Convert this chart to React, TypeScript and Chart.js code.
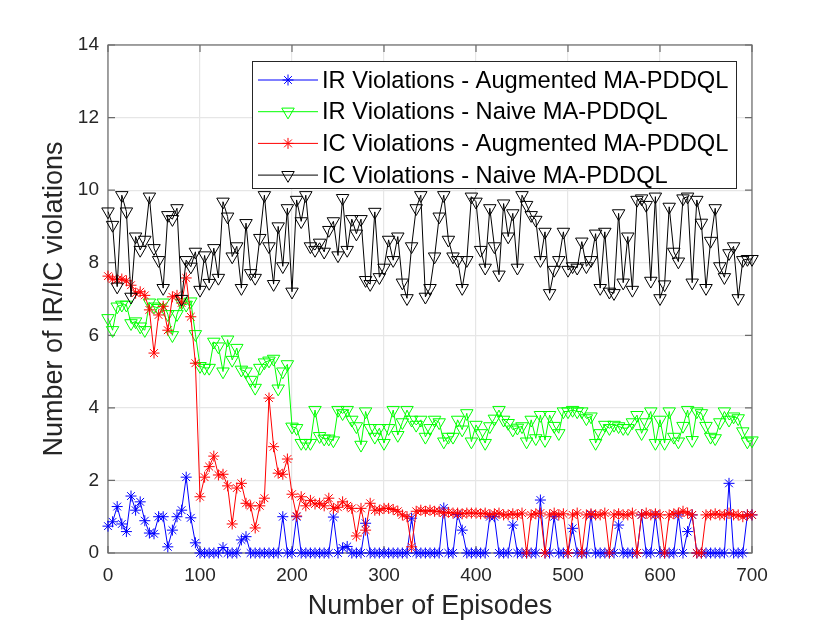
import React, { useEffect, useRef } from 'react'
import { Chart, registerables } from 'chart.js'

Chart.register(...registerables)

// episodes sampled every 5 steps
const episodes = Array.from({ length: 141 }, (_, i) => i * 5)

const irAugmented = [
  0.74, 0.86, 1.28, 0.8, 0.59, 1.57, 1.18, 1.41, 0.89, 0.55,
  0.53, 1.0, 1.0, 0.17, 0.63, 1.0, 1.18, 2.09, 0.97, 0.28,
  0, 0, 0, 0, 0, 0.15, 0, 0, 0, 0.36,
  0.45, 0, 0, 0, 0, 0, 0, 0, 1.0, 0,
  0, 1.0, 0, 0, 0, 0, 0, 0, 0, 0.99,
  0, 0.14, 0.18, 0, 0, 0, 0.82, 0, 0, 0,
  0, 0, 0, 0, 0, 0, 0.96, 0, 0, 0,
  0, 0, 0, 1.24, 0, 0, 1.06, 0.63, 0, 0,
  0, 0, 0, 1.0, 1.0, 0, 0, 0, 0.77, 0,
  0, 0, 0, 0, 1.46, 0, 0, 1.0, 0, 0,
  0, 0.68, 0, 0, 0, 1.05, 0, 0, 0, 0,
  0, 0.77, 0, 0, 0, 0, 1.05, 0, 0, 1.05,
  0, 0, 0, 0, 1.05, 0, 0.59, 1.05, 0, 0,
  0, 0, 0, 0, 0, 1.92, 0, 0, 0, 1.05,
  1.05
]

const irNaive = [
  6.47, 6.14, 6.79, 6.84, 6.84, 6.33, 6.38, 6.24, 6.14, 6.9,
  6.79, 6.75, 6.9, 6.58, 6.0, 6.58, 6.9, 6.84, 6.93, 6.03,
  5.15, 5.1, 5.1, 5.82, 5.69, 5.0, 5.88, 5.32, 5.65, 5.05,
  5.0, 4.77, 4.55, 5.1, 5.25, 5.3, 5.35, 4.53, 5.0, 5.2,
  3.48, 3.44, 3.03, 3.03, 3.03, 3.94, 3.22, 3.15, 3.15, 3.1,
  3.94, 3.85, 3.94, 3.67, 3.49, 2.98, 3.9, 3.44, 3.2, 3.44,
  3.03, 3.44, 3.94, 3.25, 3.6, 3.94, 3.67, 3.53, 3.67, 3.2,
  3.44, 3.67, 3.6, 3.07, 3.2, 3.2, 3.67, 3.4, 3.85, 3.07,
  3.53, 3.3, 3.03, 3.49, 3.7, 3.94, 3.67, 3.58, 3.4, 3.45,
  3.49, 3.07, 3.67, 3.16, 3.8, 3.11, 3.8, 3.5, 3.3, 3.9,
  3.9, 3.94, 3.9, 3.9, 3.71, 3.76, 3.03, 3.3, 3.53, 3.44,
  3.53, 3.49, 3.44, 3.44, 3.6, 3.8, 3.3, 3.6, 3.9, 3.03,
  3.67, 3.03, 3.9, 3.2, 3.07, 3.5, 3.94, 3.11, 3.9, 3.85,
  3.5, 3.2, 3.16, 3.6, 3.9, 3.67, 3.76, 3.71, 3.35, 3.07,
  3.1
]

const icAugmented = [
  7.63, 7.55, 7.53, 7.55, 7.5, 7.38, 7.16, 7.2, 7.1, 6.7,
  5.51, 6.56, 6.8, 6.14, 7.06, 7.1, 6.89, 7.58, 6.51, 5.23,
  1.55, 2.09, 2.38, 2.67, 2.15, 2.17, 1.85, 0.8, 1.79, 1.92,
  1.37, 1.3, 0.69, 1.3, 1.51, 4.27, 2.93, 2.2, 2.17, 2.59,
  1.62, 1.02, 1.55, 1.3, 1.45, 1.35, 1.37, 1.3, 1.51, 1.23,
  1.26, 1.41, 1.3, 1.23, 0.47, 1.23, 0.63, 1.37, 1.18, 1.18,
  1.23, 1.23, 1.2, 1.15, 1.05, 1.0, 0.17, 1.15, 1.18, 1.15,
  1.18, 1.15, 1.15, 1.1, 1.12, 1.1, 1.1, 1.08, 1.1, 1.1,
  1.1, 1.08, 1.1, 1.05, 1.08, 1.1, 1.05, 1.05, 1.08, 1.05,
  1.1, 0, 1.05, 1.08, 1.1, 0, 1.05, 1.1, 1.05, 1.08,
  0, 1.05, 1.1, 0, 1.05, 1.08, 1.05, 1.05, 1.1, 0,
  1.05, 1.08, 1.05, 1.05, 1.1, 0, 1.05, 1.1, 1.05, 1.08,
  1.05, 0, 1.05, 1.08, 1.1, 1.15, 1.1, 1.05, 0, 0,
  1.05, 1.05, 1.08, 1.05, 1.05, 1.1, 1.05, 1.05, 1.0, 1.05,
  1.05
]

const icNaive = [
  9.41, 9.04, 7.34, 9.86, 9.41, 7.06, 8.72, 8.35, 8.63, 9.82,
  8.4, 8.07, 7.3, 9.31, 9.2, 9.5, 7.0, 8.07, 7.89, 8.3,
  7.25, 8.2, 7.44, 8.4, 7.58, 9.68, 9.27, 8.17, 8.45, 7.3,
  9.09, 7.71, 7.58, 8.68, 9.86, 8.45, 7.41, 9.0, 7.9, 9.5,
  7.2, 9.73, 9.14, 9.86, 8.45, 8.35, 8.55, 8.3, 8.9, 9.14,
  8.2, 9.78, 8.35, 9.2, 8.8, 9.2, 7.52, 7.41, 9.4, 7.6,
  7.86, 8.63, 8.07, 8.72, 7.45, 7.02, 8.45, 9.5, 9.86, 7.06,
  7.3, 8.17, 9.27, 9.86, 8.63, 8.17, 8.07, 7.3, 8.07, 9.82,
  9.68, 8.35, 7.86, 9.5, 8.45, 7.67, 9.63, 8.72, 9.36, 7.86,
  9.86, 9.59, 9.31, 9.18, 8.07, 8.85, 7.16, 7.8, 8.07, 8.85,
  7.8, 7.9, 7.86, 8.58, 7.9, 8.07, 8.8, 7.3, 8.85, 7.2,
  7.16, 9.36, 7.45, 8.72, 7.25, 9.73, 9.77, 9.59, 7.5, 9.82,
  7.02, 7.4, 9.54, 8.3, 8.03, 9.77, 9.82, 7.45, 9.73, 9.1,
  7.3, 8.6, 9.5, 7.9, 7.6, 8.26, 8.45, 7.02, 8.07, 8.1,
  8.1
]

const xTicks = [0, 100, 200, 300, 400, 500, 600, 700]
const yTicks = [0, 2, 4, 6, 8, 10, 12, 14]

const seriesLabels = [
  'IR Violations - Augmented MA-PDDQL',
  'IR Violations - Naive MA-PDDQL',
  'IC Violations - Augmented MA-PDDQL',
  'IC Violations - Naive MA-PDDQL'
]
const seriesColors = ['#0000ff', '#00ff00', '#ff0000', '#000000']
const seriesMarkers = ['star', 'triangle', 'star', 'triangle']

const FONT = '"Liberation Sans", Arial, Helvetica, sans-serif'
const AXIS_GRAY = '#6b6b6b'
const STAR_R = 5.5
const TRI_R = 7.2

// box round the axes, with inward ticks as in matlab
const axesBox = {
  id: 'axesBox',
  beforeDatasetsDraw(chart) {
    const { ctx, chartArea: a, scales } = chart
    ctx.save()
    ctx.strokeStyle = AXIS_GRAY
    ctx.lineWidth = 1.2
    ctx.strokeRect(a.left, a.top, a.right - a.left, a.bottom - a.top)
    const t = 7
    ctx.beginPath()
    xTicks.forEach(v => {
      const x = scales.x.getPixelForValue(v)
      ctx.moveTo(x, a.bottom)
      ctx.lineTo(x, a.bottom - t)
      ctx.moveTo(x, a.top)
      ctx.lineTo(x, a.top + t)
    })
    yTicks.forEach(v => {
      const y = scales.y.getPixelForValue(v)
      ctx.moveTo(a.left, y)
      ctx.lineTo(a.left + t, y)
      ctx.moveTo(a.right, y)
      ctx.lineTo(a.right - t, y)
    })
    ctx.stroke()
    ctx.restore()
  }
}

const drawMarker = (ctx, kind, x, y) => {
  ctx.beginPath()
  if (kind === 'star') {
    const r = STAR_R
    const d = r * Math.SQRT1_2
    ctx.moveTo(x - r, y); ctx.lineTo(x + r, y)
    ctx.moveTo(x, y - r); ctx.lineTo(x, y + r)
    ctx.moveTo(x - d, y - d); ctx.lineTo(x + d, y + d)
    ctx.moveTo(x - d, y + d); ctx.lineTo(x + d, y - d)
  } else {
    const r = TRI_R
    ctx.moveTo(x, y + r)
    ctx.lineTo(x - 0.866 * r, y - 0.5 * r)
    ctx.lineTo(x + 0.866 * r, y - 0.5 * r)
    ctx.closePath()
  }
  ctx.stroke()
}

// legend box inside the axes, top right
const boxLegend = {
  id: 'boxLegend',
  afterDraw(chart) {
    const { ctx } = chart
    const left = 252.5
    const top = 61.5
    const w = 484
    const h = 127
    ctx.save()
    ctx.fillStyle = '#ffffff'
    ctx.fillRect(left, top, w, h)
    ctx.strokeStyle = '#262626'
    ctx.lineWidth = 1
    ctx.strokeRect(left, top, w, h)
    ctx.font = `23.7px ${FONT}`
    ctx.textBaseline = 'middle'
    ctx.textAlign = 'left'
    seriesLabels.forEach((label, i) => {
      const y = 80 + i * 31.7
      ctx.strokeStyle = seriesColors[i]
      ctx.lineWidth = 1
      ctx.beginPath()
      ctx.moveTo(258, y)
      ctx.lineTo(318, y)
      ctx.stroke()
      drawMarker(ctx, seriesMarkers[i], 288, y)
      ctx.fillStyle = '#000000'
      ctx.fillText(label, 322, y + 1)
    })
    ctx.restore()
  }
}

const ViolationsChart = () => {
  const chartRef = useRef(null)
  const chartInstanceRef = useRef(null)

  useEffect(() => {
    const ctx = chartRef.current.getContext('2d')
    const seriesValues = [irAugmented, irNaive, icAugmented, icNaive]

    const datasets = seriesValues.map((values, i) => ({
      label: seriesLabels[i],
      data: values.map((v, k) => ({ x: episodes[k], y: v })),
      borderColor: seriesColors[i],
      backgroundColor: 'transparent',
      borderWidth: 1,
      pointStyle: seriesMarkers[i],
      pointRadius: seriesMarkers[i] === 'star' ? STAR_R : TRI_R,
      pointRotation: seriesMarkers[i] === 'star' ? 0 : 180,
      pointBorderColor: seriesColors[i],
      pointBackgroundColor: 'transparent',
      pointBorderWidth: 1,
      tension: 0,
      clip: false,
      order: 3 - i
    }))

    chartInstanceRef.current = new Chart(ctx, {
      type: 'line',
      data: { datasets },
      options: {
        animation: false,
        responsive: false,
        events: [],
        layout: { padding: { left: 0, right: 78, top: 45, bottom: 0 } },
        plugins: {
          legend: { display: false },
          tooltip: { enabled: false }
        },
        scales: {
          x: {
            type: 'linear',
            min: 0,
            max: 700,
            afterBuildTicks: s => { s.ticks = xTicks.map(v => ({ value: v })) },
            afterFit: s => { s.height = 70 },
            grid: { color: '#e6e6e6', lineWidth: 1.2, drawTicks: false },
            border: { display: false },
            ticks: {
              padding: 11,
              maxRotation: 0,
              color: '#262626',
              font: { family: FONT, size: 19 }
            },
            title: {
              display: true,
              text: 'Number of Episodes',
              color: '#262626',
              font: { family: FONT, size: 27 },
              padding: { top: 0, bottom: 0 }
            }
          },
          y: {
            type: 'linear',
            min: 0,
            max: 14,
            afterBuildTicks: s => { s.ticks = yTicks.map(v => ({ value: v })) },
            afterFit: s => { s.width = 108 },
            grid: { color: '#e6e6e6', lineWidth: 1.2, drawTicks: false },
            border: { display: false },
            ticks: {
              padding: 9,
              color: '#262626',
              font: { family: FONT, size: 19 }
            },
            title: {
              display: true,
              text: 'Number of IR/IC violations',
              color: '#262626',
              font: { family: FONT, size: 27 },
              padding: { top: 38, bottom: 0 }
            }
          }
        }
      },
      plugins: [axesBox, boxLegend]
    })

    return () => {
      chartInstanceRef.current.destroy()
    }
  }, [])

  return (
    <div style={{ position: 'fixed', left: 0, top: 0, width: 830, height: 623, background: '#fff' }}>
      <canvas ref={chartRef} width={830} height={623}></canvas>
    </div>
  )
}

export default function App() {
  return <ViolationsChart />
}
